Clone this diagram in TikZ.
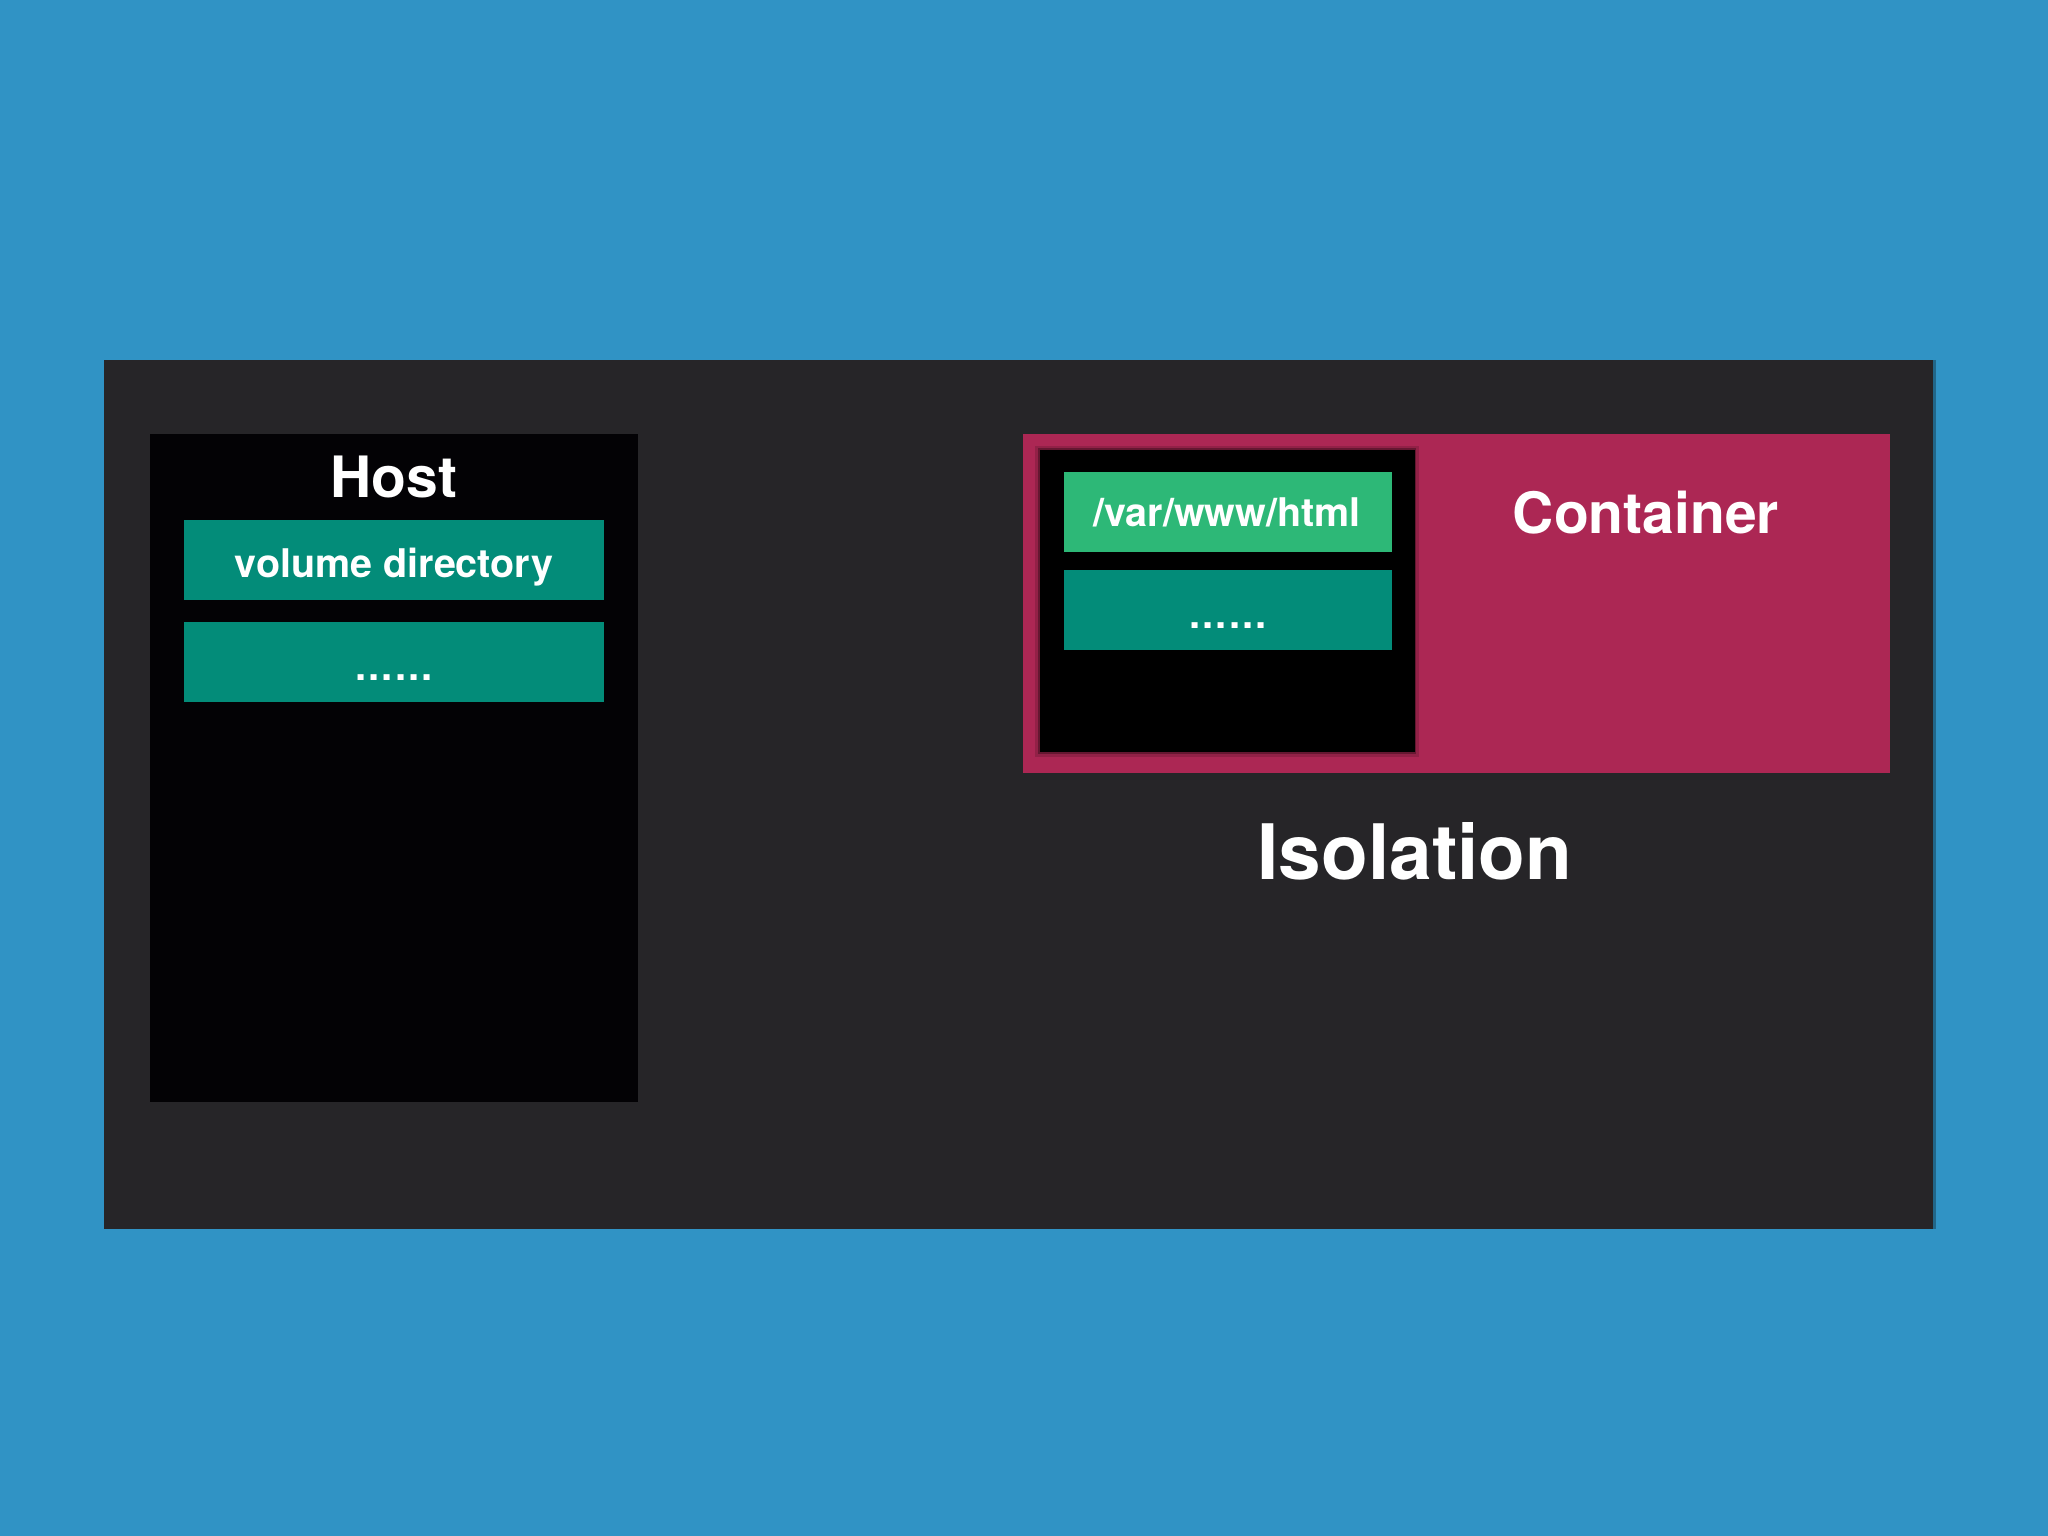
\documentclass[tikz,border=0pt]{standalone}
\usepackage{fontspec}
\setmainfont{TeX Gyre Heros}
\definecolor{bgblue}{HTML}{3093C5}
\definecolor{panelgray}{HTML}{262528}
\definecolor{deepblack}{HTML}{030205}
\definecolor{tealbox}{HTML}{038C79}
\definecolor{greenbox}{HTML}{2DB877}
\definecolor{magentabox}{HTML}{AC2754}
\newcommand\myfs[1]{\fontsize{#1}{#1}\selectfont\bfseries}
\begin{document}
\begin{tikzpicture}[x=1pt,y=-1pt,
  box/.style={inner sep=0pt,outer sep=0pt,anchor=north west,draw=none},
  lbl/.style={text=white,anchor=base,inner sep=0pt,outer sep=0pt}]
\fill[bgblue] (0,0) rectangle (2048,1536);
\useasboundingbox (0,0) rectangle (2048,1536);
% main dark panel
\fill[black,opacity=0.3] (104,360) rectangle (1936,1229);
\node[box,fill=panelgray,minimum width=1829pt,minimum height=869pt] (panel) at (104,360) {};
% host
\node[box,fill=deepblack,minimum width=488pt,minimum height=668pt] (host) at (150,434) {};
\node[lbl,font=\myfs{57}] (hostlbl) at (394,497) {Host};
\node[box,fill=tealbox,minimum width=420pt,minimum height=80pt] (vol) at (184,520) {};
\node[lbl,font=\myfs{39.5}] (vollbl) at (394,577) {volume directory};
\node[box,fill=tealbox,minimum width=420pt,minimum height=80pt] (hdots) at (184,622) {};
\node[lbl,font=\myfs{40}] (hdotslbl) at (394,680) {.\kern2pt.\kern2pt.\kern2pt.\kern2pt.\kern2pt.};
% container
\node[box,fill=magentabox,minimum width=867pt,minimum height=339pt] (cont) at (1023,434) {};
\fill[black,opacity=0.15] (1035,446) rectangle (1419,757);
\fill[black,opacity=0.3] (1038,448) rectangle (1416,754);
\node[box,fill=black,minimum width=375pt,minimum height=302pt] (inner) at (1040,450) {};
\node[lbl,font=\myfs{57}] (contlbl) at (1646,533) {Container};
\node[box,fill=greenbox,minimum width=328pt,minimum height=80pt] (var) at (1064,472) {};
\node[lbl,font=\myfs{39.5}] (varlbl) at (1227,526) {/var/www/html};
\node[box,fill=tealbox,minimum width=328pt,minimum height=80pt] (cdots) at (1064,570) {};
\node[lbl,font=\myfs{40}] (cdotslbl) at (1228,628) {.\kern2pt.\kern2pt.\kern2pt.\kern2pt.\kern2pt.};
% isolation
\node[lbl,font=\myfs{76.5}] (iso) at (1415,879) {Isolation};
\end{tikzpicture}
\end{document}
